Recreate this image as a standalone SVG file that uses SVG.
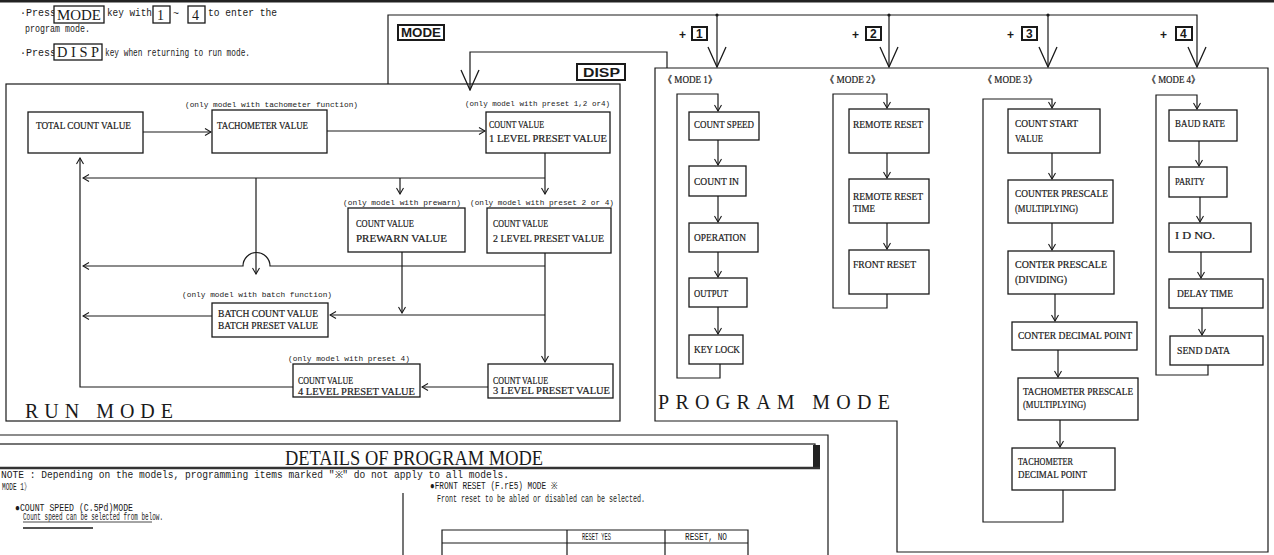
<svg xmlns="http://www.w3.org/2000/svg" width="1274" height="555" viewBox="0 0 1274 555">
<style>
.ln{fill:none;stroke:#1a1a1a;stroke-width:1.2}
.bx{fill:#fff;stroke:#1a1a1a;stroke-width:1.3}
.t{font-family:"Liberation Serif",serif;font-size:10px;fill:#1a1a1a;stroke:#1a1a1a;stroke-width:0.2}
.s{font-family:"Liberation Mono",monospace;font-size:7px;fill:#1a1a1a}
.m{font-family:"Liberation Mono",monospace;font-size:10px;fill:#1a1a1a}
.k{font-family:"Liberation Serif",serif;font-size:14px;fill:#1a1a1a}
.kb{font-family:"Liberation Sans",sans-serif;font-size:12px;font-weight:bold;fill:#1a1a1a}
.big{font-family:"Liberation Serif",serif;font-size:20px;fill:#1a1a1a}
.key{fill:#fff;stroke:#1a1a1a;stroke-width:1.3}
.key2{fill:#fff;stroke:#1a1a1a;stroke-width:2}
</style>
<defs>
<marker id="ah" viewBox="-8 -5 9 10" refX="0" refY="0" markerWidth="9" markerHeight="10" markerUnits="userSpaceOnUse" orient="auto"><path d="M-6,-3.5 L0,0 L-6,3.5" fill="none" stroke="#1a1a1a" stroke-width="1.1"/></marker>
<marker id="bh" viewBox="-22 -11 23 22" refX="0" refY="0" markerWidth="23" markerHeight="22" markerUnits="userSpaceOnUse" orient="auto"><path d="M-20,-9 L0,0 L-20,9" fill="none" stroke="#1a1a1a" stroke-width="1.3"/></marker>
</defs>
<rect x="0" y="0" width="1274" height="555" fill="#fff"/>
<rect x="0" y="0" width="1274" height="2.5" fill="#222"/>

<g id="instructions">
<text class="m" x="20" y="16">·</text>
<text class="m" x="26" y="16" font-size="9">Press</text>
<rect class="key" x="54" y="6" width="50" height="17"/>
<text class="k" x="57" y="20" textLength="44" lengthAdjust="spacingAndGlyphs">MODE</text>
<text class="m" x="107" y="16" textLength="45" lengthAdjust="spacingAndGlyphs">key with</text>
<rect class="key" x="153" y="6" width="17" height="17"/>
<text class="k" x="157" y="20">1</text>
<text class="m" x="173" y="17">~</text>
<rect class="key" x="188" y="6" width="17" height="17"/>
<text class="k" x="192" y="20">4</text>
<text class="m" x="208" y="16" textLength="69" lengthAdjust="spacingAndGlyphs">to enter the</text>
<text class="m" x="25" y="32" textLength="65" lengthAdjust="spacingAndGlyphs">program mode.</text>
<text class="m" x="20" y="56">·</text>
<text class="m" x="26" y="56" font-size="9">Press</text>
<rect class="key" x="54" y="44" width="48" height="16"/>
<text class="k" x="57" y="57" textLength="42" lengthAdjust="spacingAndGlyphs">D I S P</text>
<text class="m" x="105" y="56" textLength="145" lengthAdjust="spacingAndGlyphs">key when returning to run mode.</text>
</g>

<g id="key-labels">
<rect class="key2" x="398" y="25" width="46" height="15"/>
<text class="kb" x="401" y="37" textLength="40" lengthAdjust="spacingAndGlyphs">MODE</text>
<rect class="key2" x="577" y="64" width="48" height="16"/>
<text class="kb" x="583" y="77" textLength="37" lengthAdjust="spacingAndGlyphs">DISP</text>
<text class="kb" x="679" y="39" font-size="15">+</text>
<rect class="key2" x="692" y="27" width="15" height="13"/>
<text class="kb" x="696" y="38" font-size="11">1</text>
<text class="kb" x="852" y="39" font-size="15">+</text>
<rect class="key2" x="866" y="27" width="15" height="13"/>
<text class="kb" x="870" y="38" font-size="11">2</text>
<text class="kb" x="1007" y="39" font-size="15">+</text>
<rect class="key2" x="1022" y="27" width="15" height="13"/>
<text class="kb" x="1026" y="38" font-size="11">3</text>
<text class="kb" x="1160" y="39" font-size="15">+</text>
<rect class="key2" x="1176" y="27" width="16" height="13"/>
<text class="kb" x="1180" y="38" font-size="11">4</text>
</g>

<g id="run-mode-frame">
<rect x="6" y="84" width="614" height="337" fill="none" stroke="#1a1a1a" stroke-width="1.2"/>
<text class="big" x="25" y="418" textLength="148" lengthAdjust="spacing">RUN MODE</text>
</g>

<g id="program-mode-frame">
<path class="ln" d="M655,68 H1268 V552 H897 V421 H655 Z"/>
<text class="big" x="658" y="409" textLength="232" lengthAdjust="spacing">PROGRAM MODE</text>
<text class="t" x="663" y="83" textLength="54" lengthAdjust="spacingAndGlyphs">《 MODE 1》</text>
<text class="t" x="825" y="83" textLength="55" lengthAdjust="spacingAndGlyphs">《 MODE 2》</text>
<text class="t" x="983" y="83" textLength="54" lengthAdjust="spacingAndGlyphs">《 MODE 3》</text>
<text class="t" x="1147" y="83" textLength="53" lengthAdjust="spacingAndGlyphs">《 MODE 4》</text>
</g>

<g id="connectors">
<path class="ln" d="M388,84 V15 H1197 V67" marker-end="url(#bh)"/>
<path class="ln" d="M717,15 V67" marker-end="url(#bh)"/>
<path class="ln" d="M889,15 V67" marker-end="url(#bh)"/>
<path class="ln" d="M1048,15 V67" marker-end="url(#bh)"/>
<circle cx="717" cy="15" r="1.6" fill="#1a1a1a"/>
<circle cx="889" cy="15" r="1.6" fill="#1a1a1a"/>
<circle cx="1048" cy="15" r="1.6" fill="#1a1a1a"/>
<path class="ln" d="M667,68 V52 H470 V90" marker-end="url(#bh)"/>

<path class="ln" d="M143,132 H211" marker-end="url(#ah)"/>
<path class="ln" d="M327,131 H485" marker-end="url(#ah)"/>
<path class="ln" d="M545,153 V194" marker-end="url(#ah)"/>
<path class="ln" d="M545,178 H83" marker-end="url(#ah)"/>
<path class="ln" d="M400,178 V194" marker-end="url(#ah)"/>
<path class="ln" d="M256,178 V274" marker-end="url(#ah)"/>
<path class="ln" d="M545,253 V362" marker-end="url(#ah)"/>
<path class="ln" d="M545,266 H270 A13,13 0 0 0 243,266 H83" marker-end="url(#ah)"/>
<path class="ln" d="M402,252 V313" marker-end="url(#ah)"/>
<path class="ln" d="M545,315 H330" marker-end="url(#ah)"/>
<path class="ln" d="M212,316 H83" marker-end="url(#ah)"/>
<path class="ln" d="M488,387 H422" marker-end="url(#ah)"/>
<path class="ln" d="M293,387 H80 V158" marker-end="url(#ah)"/>

<path class="ln" d="M720,364 V378 H677 V94 H718 V111" marker-end="url(#ah)"/>
<path class="ln" d="M718,140 V165" marker-end="url(#ah)"/>
<path class="ln" d="M718,196 V222" marker-end="url(#ah)"/>
<path class="ln" d="M718,252 V277" marker-end="url(#ah)"/>
<path class="ln" d="M718,307 V334" marker-end="url(#ah)"/>

<path class="ln" d="M887,294 V308 H833 V94 H887 V108" marker-end="url(#ah)"/>
<path class="ln" d="M887,153 V178" marker-end="url(#ah)"/>
<path class="ln" d="M887,223 V249" marker-end="url(#ah)"/>

<path class="ln" d="M1063,490 V522 H983 V99 H1052 V108" marker-end="url(#ah)"/>
<path class="ln" d="M1052,153 V179" marker-end="url(#ah)"/>
<path class="ln" d="M1052,223 V250" marker-end="url(#ah)"/>
<path class="ln" d="M1055,294 V321" marker-end="url(#ah)"/>
<path class="ln" d="M1058,350 V377" marker-end="url(#ah)"/>
<path class="ln" d="M1060,420 V447" marker-end="url(#ah)"/>

<path class="ln" d="M1208,365 V375 H1156 V95 H1197 V109" marker-end="url(#ah)"/>
<path class="ln" d="M1199,141 V166" marker-end="url(#ah)"/>
<path class="ln" d="M1200,197 V222" marker-end="url(#ah)"/>
<path class="ln" d="M1201,252 V278" marker-end="url(#ah)"/>
<path class="ln" d="M1202,308 V335" marker-end="url(#ah)"/>
</g>

<g id="n-total"><rect class="bx" x="28" y="112" width="115" height="41"/>
<text class="t" x="36" y="129" textLength="95" lengthAdjust="spacingAndGlyphs">TOTAL COUNT VALUE</text></g>
<g id="n-tacho"><text class="s" x="185" y="107" textLength="173" lengthAdjust="spacingAndGlyphs">(only model with tachometer function)</text>
<rect class="bx" x="212" y="110" width="115" height="43"/>
<text class="t" x="217" y="129" textLength="91" lengthAdjust="spacingAndGlyphs">TACHOMETER VALUE</text></g>
<g id="n-level1"><text class="s" x="465" y="106" textLength="145" lengthAdjust="spacingAndGlyphs">(only model with preset 1,2 or4)</text>
<rect class="bx" x="486" y="112" width="124" height="41"/>
<text class="t" x="489" y="128" textLength="55" lengthAdjust="spacingAndGlyphs">COUNT VALUE</text>
<text class="t" x="489" y="142" textLength="118" lengthAdjust="spacingAndGlyphs">1 LEVEL PRESET VALUE</text></g>
<g id="n-prewarn"><text class="s" x="343" y="205" textLength="118" lengthAdjust="spacingAndGlyphs">(only model with prewarn)</text>
<rect class="bx" x="348" y="208" width="117" height="44"/>
<text class="t" x="356" y="227" textLength="58" lengthAdjust="spacingAndGlyphs">COUNT VALUE</text>
<text class="t" x="356" y="242" textLength="91" lengthAdjust="spacingAndGlyphs">PREWARN VALUE</text></g>
<g id="n-level2"><text class="s" x="470" y="205" textLength="144" lengthAdjust="spacingAndGlyphs">(only model with preset 2 or 4)</text>
<rect class="bx" x="487" y="208" width="124" height="45"/>
<text class="t" x="493" y="227" textLength="55" lengthAdjust="spacingAndGlyphs">COUNT VALUE</text>
<text class="t" x="493" y="242" textLength="111" lengthAdjust="spacingAndGlyphs">2 LEVEL PRESET VALUE</text></g>
<g id="n-batch"><text class="s" x="182" y="297" textLength="150" lengthAdjust="spacingAndGlyphs">(only model with batch function)</text>
<rect class="bx" x="212" y="303" width="116" height="34"/>
<text class="t" x="218" y="317" textLength="100" lengthAdjust="spacingAndGlyphs">BATCH COUNT VALUE</text>
<text class="t" x="218" y="329" textLength="100" lengthAdjust="spacingAndGlyphs">BATCH PRESET VALUE</text></g>
<g id="n-level4"><text class="s" x="288" y="361" textLength="122" lengthAdjust="spacingAndGlyphs">(only model with preset 4)</text>
<rect class="bx" x="293" y="364" width="127" height="33"/>
<text class="t" x="298" y="384" textLength="55" lengthAdjust="spacingAndGlyphs">COUNT VALUE</text>
<text class="t" x="298" y="395" textLength="117" lengthAdjust="spacingAndGlyphs">4 LEVEL PRESET VALUE</text></g>
<g id="n-level3"><rect class="bx" x="488" y="364" width="125" height="34"/>
<text class="t" x="493" y="384" textLength="55" lengthAdjust="spacingAndGlyphs">COUNT VALUE</text>
<text class="t" x="493" y="394" textLength="117" lengthAdjust="spacingAndGlyphs">3 LEVEL PRESET VALUE</text></g>

<g id="m1-count-speed"><rect class="bx" x="689" y="112" width="70" height="28"/>
<text class="t" x="694" y="128" textLength="60" lengthAdjust="spacingAndGlyphs">COUNT SPEED</text></g>
<g id="m1-count-in"><rect class="bx" x="689" y="166" width="57" height="30"/>
<text class="t" x="694" y="185" textLength="45" lengthAdjust="spacingAndGlyphs">COUNT IN</text></g>
<g id="m1-operation"><rect class="bx" x="689" y="223" width="69" height="29"/>
<text class="t" x="694" y="241" textLength="52" lengthAdjust="spacingAndGlyphs">OPERATION</text></g>
<g id="m1-output"><rect class="bx" x="689" y="278" width="58" height="29"/>
<text class="t" x="694" y="297" textLength="34" lengthAdjust="spacingAndGlyphs">OUTPUT</text></g>
<g id="m1-key-lock"><rect class="bx" x="689" y="335" width="54" height="29"/>
<text class="t" x="694" y="353" textLength="46" lengthAdjust="spacingAndGlyphs">KEY LOCK</text></g>

<g id="m2-remote-reset"><rect class="bx" x="849" y="109" width="80" height="44"/>
<text class="t" x="853" y="128" textLength="70" lengthAdjust="spacingAndGlyphs">REMOTE RESET</text></g>
<g id="m2-remote-reset-time"><rect class="bx" x="849" y="179" width="80" height="44"/>
<text class="t" x="853" y="200" textLength="70" lengthAdjust="spacingAndGlyphs">REMOTE RESET</text>
<text class="t" x="853" y="212" textLength="22" lengthAdjust="spacingAndGlyphs">TIME</text></g>
<g id="m2-front-reset"><rect class="bx" x="849" y="250" width="80" height="44"/>
<text class="t" x="853" y="268" textLength="63" lengthAdjust="spacingAndGlyphs">FRONT RESET</text></g>

<g id="m3-count-start"><rect class="bx" x="1008" y="109" width="92" height="44"/>
<text class="t" x="1015" y="127" textLength="63" lengthAdjust="spacingAndGlyphs">COUNT START</text>
<text class="t" x="1015" y="142" textLength="28" lengthAdjust="spacingAndGlyphs">VALUE</text></g>
<g id="m3-counter-prescale-mul"><rect class="bx" x="1008" y="180" width="105" height="43"/>
<text class="t" x="1015" y="197" textLength="93" lengthAdjust="spacingAndGlyphs">COUNTER PRESCALE</text>
<text class="t" x="1015" y="212" textLength="63" lengthAdjust="spacingAndGlyphs">(MULTIPLYING)</text></g>
<g id="m3-conter-prescale-div"><rect class="bx" x="1008" y="251" width="106" height="43"/>
<text class="t" x="1015" y="268" textLength="92" lengthAdjust="spacingAndGlyphs">CONTER PRESCALE</text>
<text class="t" x="1015" y="283" textLength="52" lengthAdjust="spacingAndGlyphs">(DIVIDING)</text></g>
<g id="m3-conter-decimal"><rect class="bx" x="1012" y="322" width="125" height="28"/>
<text class="t" x="1018" y="339" textLength="114" lengthAdjust="spacingAndGlyphs">CONTER DECIMAL POINT</text></g>
<g id="m3-tacho-prescale"><rect class="bx" x="1018" y="378" width="120" height="42"/>
<text class="t" x="1023" y="395" textLength="110" lengthAdjust="spacingAndGlyphs">TACHOMETER PRESCALE</text>
<text class="t" x="1023" y="408" textLength="63" lengthAdjust="spacingAndGlyphs">(MULTIPLYING)</text></g>
<g id="m3-tacho-decimal"><rect class="bx" x="1012" y="448" width="103" height="42"/>
<text class="t" x="1018" y="465" textLength="55" lengthAdjust="spacingAndGlyphs">TACHOMETER</text>
<text class="t" x="1018" y="478" textLength="69" lengthAdjust="spacingAndGlyphs">DECIMAL POINT</text></g>

<g id="m4-baud"><rect class="bx" x="1169" y="110" width="68" height="31"/>
<text class="t" x="1175" y="127" textLength="50" lengthAdjust="spacingAndGlyphs">BAUD RATE</text></g>
<g id="m4-parity"><rect class="bx" x="1169" y="167" width="58" height="30"/>
<text class="t" x="1175" y="185" textLength="30" lengthAdjust="spacingAndGlyphs">PARITY</text></g>
<g id="m4-id"><rect class="bx" x="1169" y="223" width="82" height="29"/>
<text class="t" x="1175" y="239" textLength="40" lengthAdjust="spacingAndGlyphs">I D NO.</text></g>
<g id="m4-delay"><rect class="bx" x="1169" y="279" width="94" height="29"/>
<text class="t" x="1177" y="297" textLength="56" lengthAdjust="spacingAndGlyphs">DELAY TIME</text></g>
<g id="m4-send"><rect class="bx" x="1170" y="336" width="93" height="29"/>
<text class="t" x="1177" y="354" textLength="53" lengthAdjust="spacingAndGlyphs">SEND DATA</text></g>

<g id="details">
<path class="ln" d="M0,435 H828 V555"/>
<rect x="-2" y="444" width="817" height="24" fill="#fff" stroke="#1a1a1a" stroke-width="1.2"/>
<rect x="813" y="445" width="7" height="23" fill="#222"/>
<line x1="0" y1="468" x2="820" y2="468" stroke="#333" stroke-width="2.5"/>
<text class="big" x="285" y="465" font-size="21" textLength="258" lengthAdjust="spacingAndGlyphs">DETAILS OF PROGRAM MODE</text>
<text class="m" x="1" y="478" textLength="508" lengthAdjust="spacingAndGlyphs">NOTE : Depending on the models, programming items marked "※" do not apply to all models.</text>
<text class="m" x="2" y="490" textLength="28" lengthAdjust="spacingAndGlyphs">MODE 1》</text>
<text class="m" x="15" y="511" textLength="118" lengthAdjust="spacingAndGlyphs">●COUNT SPEED (C.5Pd)MODE</text>
<text class="m" x="23" y="520" textLength="140" lengthAdjust="spacingAndGlyphs">Count speed can be selected from below.</text>
<line x1="23" y1="522" x2="152" y2="522" stroke="#1a1a1a" stroke-width="0.8"/>
<line x1="23" y1="528" x2="93" y2="528" stroke="#1a1a1a" stroke-width="1.5"/>
<line x1="403" y1="493" x2="403" y2="555" stroke="#1a1a1a" stroke-width="1.2"/>
<text class="m" x="430" y="489" textLength="127" lengthAdjust="spacingAndGlyphs">●FRONT RESET (F.rE5) MODE ※</text>
<text class="m" x="437" y="502" textLength="208" lengthAdjust="spacingAndGlyphs">Front reset to be abled or disabled can be selected.</text>
<path class="ln" d="M442,555 V530 H748 V555 M567,530 V555 M665,530 V555 M442,543 H748"/>
<text class="m" x="582" y="540" font-size="8" textLength="29" lengthAdjust="spacingAndGlyphs">RESET YES</text>
<text class="m" x="685" y="540" font-size="8" textLength="42" lengthAdjust="spacingAndGlyphs">RESET, NO</text>
</g>
</svg>
